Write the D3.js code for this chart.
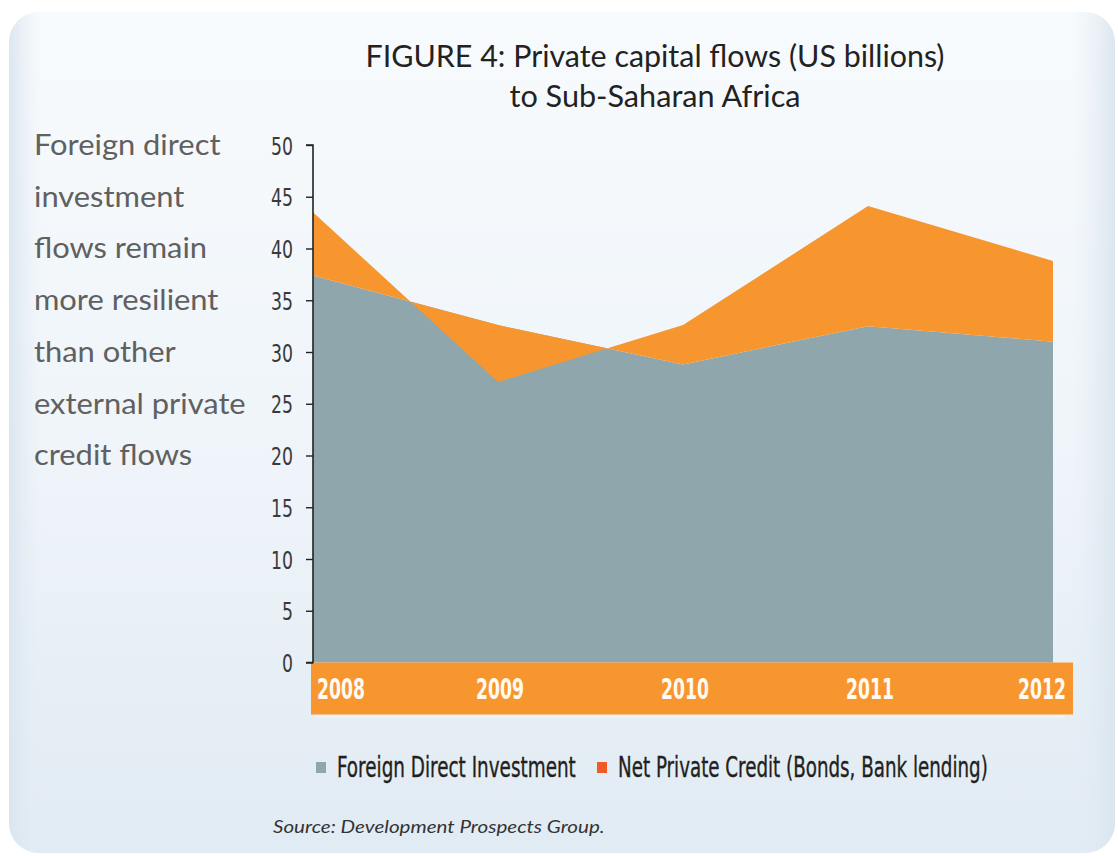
<!DOCTYPE html>
<html>
<head>
<meta charset="utf-8">
<script src="https://cdn.jsdelivr.net/npm/d3@7"></script>
<style>
  html, body { margin: 0; padding: 0; background: #ffffff; }
  svg { display: block; }
</style>
</head>
<body>
<svg id="chart" width="1118" height="856"></svg>
<script>
// Private capital flows to Sub-Saharan Africa, US$ billions
const years = [2008, 2009, 2010, 2011, 2012];
const fdi = [37.4, 32.6, 28.8, 32.5, 31.0];
const netPrivateCredit = [6.1, -5.5, 3.8, 11.6, 7.8];
const yTicks = [0, 5, 10, 15, 20, 25, 30, 35, 40, 45, 50];

const titleLines = ["FIGURE 4: Private capital flows (US billions)", "to Sub-Saharan Africa"];
const sideNote = ["Foreign direct", "investment", "flows remain", "more resilient",
                  "than other", "external private", "credit flows"];
const legendLabels = ["Foreign Direct Investment", "Net Private Credit (Bonds, Bank lending)"];
const sourceNote = "Source: Development Prospects Group.";

const rows = years.map((yr, i) => ({
  year: yr,
  fdi: fdi[i],
  total: fdi[i] + netPrivateCredit[i]
}));

const COL_FDI = "#8fa6ac";
const COL_CREDIT = "#f7962f";
const COL_CREDIT_KEY = "#f15a24";
const NARROW = "'Liberation Sans Narrow', 'DejaVu Sans Condensed', 'Roboto', sans-serif";
const HUMANIST = "Lato, 'Open Sans', sans-serif";

const svg = d3.select("#chart");
const defs = svg.append("defs");

// squeeze or stretch a text horizontally so it spans a given width
function fitWidth(sel, x0, y0, width) {
  sel.attr("x", 0).attr("y", 0);
  const w = sel.node().getComputedTextLength();
  sel.attr("transform", `translate(${x0},${y0}) scale(${width / w},1)`);
}

// panel background: pale blue wash, lighter towards the top
const bg = defs.append("linearGradient").attr("id", "panelFill")
  .attr("x1", 0).attr("y1", 0).attr("x2", 0).attr("y2", 1);
bg.append("stop").attr("offset", "0%").attr("stop-color", "#f8fbfd");
bg.append("stop").attr("offset", "55%").attr("stop-color", "#eef4f9");
bg.append("stop").attr("offset", "100%").attr("stop-color", "#e1ebf3");

const edge = defs.append("linearGradient").attr("id", "panelEdge")
  .attr("x1", 0).attr("y1", 0).attr("x2", 1).attr("y2", 0);
edge.append("stop").attr("offset", "0%").attr("stop-color", "#d9e4ee").attr("stop-opacity", 0.9);
edge.append("stop").attr("offset", "3%").attr("stop-color", "#e6eef5").attr("stop-opacity", 0.0);
edge.append("stop").attr("offset", "96%").attr("stop-color", "#e6eef5").attr("stop-opacity", 0.0);
edge.append("stop").attr("offset", "100%").attr("stop-color", "#d9e4ee").attr("stop-opacity", 0.9);

svg.append("rect")
  .attr("x", 9).attr("y", 12).attr("width", 1106).attr("height", 841)
  .attr("rx", 30).attr("ry", 30)
  .attr("fill", "url(#panelFill)");
svg.append("rect")
  .attr("x", 9).attr("y", 12).attr("width", 1106).attr("height", 841)
  .attr("rx", 30).attr("ry", 30)
  .attr("fill", "url(#panelEdge)");

// scales
const x = d3.scalePoint().domain(years).range([313, 1053]);
const y = d3.scaleLinear().domain([0, 50]).range([662.5, 145]);

// FDI base area
svg.append("path")
  .datum(rows)
  .attr("fill", COL_FDI)
  .attr("d", d3.area()
    .x(d => x(d.year))
    .y0(y(0))
    .y1(d => y(d.fdi)));

// Net private credit stacked on FDI (negative years fold back over it)
svg.append("path")
  .datum(rows)
  .attr("fill", COL_CREDIT)
  .attr("d", d3.area()
    .x(d => x(d.year))
    .y0(d => y(d.fdi))
    .y1(d => y(d.total)));

// category band under the plot
svg.append("rect")
  .attr("x", x(years[0]) - 2).attr("y", y(0))
  .attr("width", x(years[years.length - 1]) + 20 - (x(years[0]) - 2))
  .attr("height", 52)
  .attr("fill", COL_CREDIT);
svg.append("rect")
  .attr("x", x(years[0]) + 4).attr("y", y(0) + 53)
  .attr("width", x(years[years.length - 1]) + 8 - x(years[0]))
  .attr("height", 2)
  .attr("fill", "#f7f4ee").attr("opacity", 0.8);

svg.append("g").selectAll("text")
  .data(years)
  .join("text")
  .attr("x", (d, i) => i === 0 ? x(d) + 4 : i === years.length - 1 ? x(d) + 13 : x(d) + 2)
  .attr("y", 699)
  .attr("text-anchor", (d, i) => i === 0 ? "start" : i === years.length - 1 ? "end" : "middle")
  .attr("font-family", NARROW)
  .attr("font-weight", "bold")
  .attr("font-size", 28)
  .attr("fill", "#fffaf2")
  .attr("textLength", 48)
  .attr("lengthAdjust", "spacingAndGlyphs")
  .text(d => d);

// value axis
const yAxis = d3.axisLeft(y).tickValues(yTicks).tickSize(7).tickPadding(13).tickFormat(d3.format("d"));
const gy = svg.append("g").attr("transform", `translate(${x(years[0])},0)`).call(yAxis);
gy.select(".domain").attr("stroke", "#222").attr("stroke-width", 1.6)
  .attr("d", `M-7,${y(50)}H0V${y(0)}H-7`);
gy.selectAll(".tick line").attr("stroke", "#222").attr("stroke-width", 1.4);
gy.selectAll(".tick text")
  .attr("font-family", NARROW)
  .attr("font-size", 25)
  .attr("fill", "#3a3a3a")
  .attr("dy", "0.36em")
  .each(function(d) {
    d3.select(this).attr("textLength", String(d).length * 11)
      .attr("lengthAdjust", "spacingAndGlyphs");
  });

// title
svg.append("g").selectAll("text")
  .data(titleLines)
  .join("text")
  .attr("x", 655)
  .attr("y", (d, i) => 67 + i * 40)
  .attr("text-anchor", "middle")
  .attr("font-family", HUMANIST)
  .attr("font-size", 31)
  .attr("fill", "#222")
  .attr("textLength", (d, i) => i === 0 ? 579 : 291)
  .attr("lengthAdjust", "spacingAndGlyphs")
  .text(d => d);

// side commentary, one line per tick row
svg.append("g").selectAll("text")
  .data(sideNote)
  .join("text")
  .attr("x", 34)
  .attr("y", (d, i) => y(50 - i * 5) + 10)
  .attr("font-family", HUMANIST)
  .attr("font-size", 29)
  .attr("fill", "#606060")
  .attr("transform", "translate(34,0) scale(1.065,1) translate(-34,0)")
  .text(d => d);

// legend
const legendX = [316, 597];
const legendTextW = [239, 370];
const legendCols = [COL_FDI, COL_CREDIT_KEY];
const lg = svg.append("g");
legendLabels.forEach((lab, i) => {
  lg.append("rect")
    .attr("x", legendX[i]).attr("y", 762)
    .attr("width", 10).attr("height", 11)
    .attr("fill", legendCols[i]);
  lg.append("text")
    .attr("font-family", NARROW)
    .attr("font-size", 28)
    .attr("fill", "#231f20")
    .attr("stroke", "#231f20")
    .attr("stroke-width", 0.35)
    .text(lab)
    .call(fitWidth, legendX[i] + 21, 777, legendTextW[i]);
});

// source line
svg.append("text")
  .attr("font-family", HUMANIST)
  .attr("font-style", "italic")
  .attr("font-size", 17)
  .attr("fill", "#333")
  .text(sourceNote)
  .call(fitWidth, 273, 833, 332);
</script>
</body>
</html>
